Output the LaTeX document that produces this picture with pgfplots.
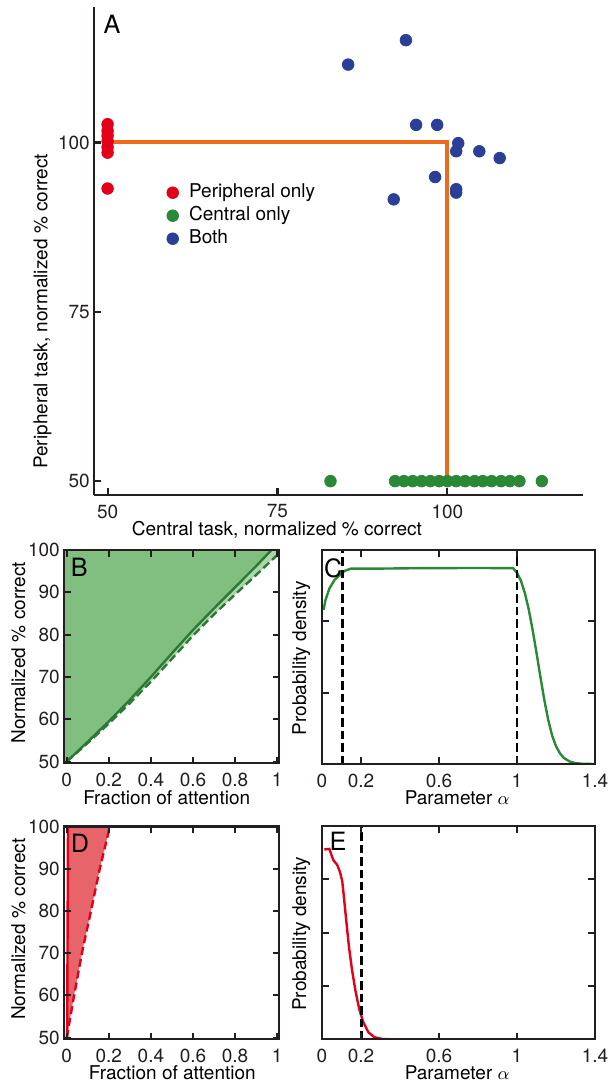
\documentclass[border=0pt]{standalone}
\usepackage{fontspec}
\setmainfont{TeX Gyre Heros}
\usepackage{pgfplots}
\pgfplotsset{compat=1.18}

\definecolor{axisgray}{HTML}{231F20}
\definecolor{redpt}{HTML}{E3001B}
\definecolor{greenpt}{HTML}{2A8837}
\definecolor{bluept}{HTML}{2A4096}
\definecolor{orangeln}{HTML}{EC6B1A}
\definecolor{Bfill}{HTML}{80BF80}
\definecolor{Bband}{HTML}{AED6AE}
\definecolor{Bline}{HTML}{2B7A33}
\definecolor{Dfill}{HTML}{E8646B}

\tikzset{panel letter/.style={anchor=north west, inner sep=0pt, font=\fontsize{12.6}{14}\selectfont}}

\pgfplotsset{
  every axis/.append style={
    scale only axis,
    tick label style={font=\fontsize{9.5}{11}\selectfont, text=axisgray},
    label style={font=\fontsize{9.5}{11}\selectfont},
    /pgf/number format/assume math mode=true,
    tick align=inside,
    major tick length=3.3pt,
    axis line style={line width=1.05pt, draw=axisgray},
    every tick/.style={line width=1.05pt, draw=axisgray},
    xticklabel style={yshift=-1.4pt},
    yticklabel style={xshift=1.4pt},
    axis on top,
  },
  dotlegend/.style={legend image code/.code={\draw[##1] plot coordinates {(0pt,0pt)}; \path (-3pt,0pt) (8pt,0pt);}},
}

\begin{document}
\begin{tikzpicture}
\useasboundingbox (0,0) rectangle (305.5pt,541pt);

% ---- A: scatter
\begin{axis}[
  at={(47pt,293.65pt)}, anchor=south west,
  width=244.65pt, height=243.85pt,
  axis lines*=left,
  axis line style={-, line width=0.95pt},
  tick align=inside,
  xmin=48, xmax=120, ymin=48, ymax=120,
  xtick={50,75,100}, ytick={50,75,100},
  xlabel={Central task, normalized \% correct},
  ylabel={Peripheral task, normalized \% correct},
  xlabel style={at={(axis description cs:0.374,0)}, anchor=base, yshift=-20.2pt},
  ylabel style={at={(axis description cs:-0.105,0.376)}, anchor=center},
  legend style={at={(axis description cs:0.147,0.6385)}, anchor=north west,
    draw=none, fill=none, inner sep=0pt, row sep=2.5pt,
    font=\fontsize{9.5}{11}\selectfont,
    nodes={inner sep=0pt, text height=7pt, text depth=2pt}},
  legend cell align=left,
]
\addplot[forget plot, draw=orangeln, line width=2pt, line join=miter] coordinates {(50,100) (100,100) (100,50.5)};
\addplot[only marks, mark=*, mark size=2.9pt, color=redpt, dotlegend] coordinates {
  (50,102.7) (50,101.7) (50,101.0) (50,100.2) (50,99.3) (50,98.5) (50,93.2)
};
\addlegendentry{Peripheral only}
\addplot[only marks, mark=*, mark size=2.9pt, color=greenpt, dotlegend] coordinates {
  (82.8,50) (92.3,50) (93.6,50) (94.9,50) (96.2,50) (97.5,50) (98.8,50) (100,50)
  (101.3,50) (102.6,50) (104.0,50) (105.2,50) (106.5,50) (107.9,50) (109.2,50)
  (110.6,50) (113.9,50)
};
\addlegendentry{Central only}
\addplot[only marks, mark=*, mark size=2.9pt, color=bluept, dotlegend] coordinates {
  (93.9,115.1) (85.4,111.5) (95.4,102.6) (98.5,102.6) (101.6,99.9) (101.3,98.7)
  (104.7,98.7) (107.7,97.7) (98.2,94.9) (101.3,93.1) (101.3,92.6) (92.1,91.6)
};
\addlegendentry{Both}
\node[panel letter, xshift=4.6pt, yshift=-4pt] at (rel axis cs:0,1) {A};
\end{axis}

% ---- B
\begin{axis}[
  at={(32pt,159.35pt)}, anchor=south west,
  width=107.65pt, height=106.65pt,
  xmin=-0.013, xmax=1.01, ymin=49.6, ymax=100,
  xtick={0,0.2,0.4,0.6,0.8,1}, ytick={50,60,70,80,90,100},
  xlabel={Fraction of attention},
  ylabel={Normalized \% correct},
  xlabel style={at={(axis description cs:0.477,0)}, anchor=base, yshift=-20.7pt},
  ylabel style={at={(axis description cs:-0.212,0.518)}, anchor=center},
]
\addplot[fill=Bfill, draw=none] coordinates {
  (-0.05,49) (0,50) (0.1,54.7) (0.2,59.5) (0.3,64.6) (0.4,70.0) (0.5,75.6)
  (0.6,81.1) (0.7,86.2) (0.8,91.2) (0.9,96.2) (0.973,100) (1,101.4)
  (1,102) (-0.05,102)
} --cycle;
\addplot[fill=Bband, draw=none] coordinates {
  (0,50) (0.1,54.7) (0.2,59.5) (0.3,64.6) (0.4,70.0) (0.5,75.6)
  (0.6,81.1) (0.7,86.2) (0.8,91.2) (0.9,96.2) (0.973,100) (1,101.4)
  (1,98.8) (0.9,94.1) (0.8,89.5) (0.7,84.8) (0.6,79.8) (0.5,74.3)
  (0.4,68.9) (0.3,63.8) (0.2,59.0) (0.1,54.4)
} --cycle;
\addplot[draw=Bline, line width=1.2pt, dash pattern=on 4pt off 2pt] coordinates {
  (0,50) (0.1,54.4) (0.2,59.0) (0.3,63.8) (0.4,68.9) (0.5,74.3)
  (0.6,79.8) (0.7,84.8) (0.8,89.5) (0.9,94.1) (1,98.8)
};
\addplot[draw=Bline, line width=1.2pt] coordinates {
  (0,50) (0.1,54.7) (0.2,59.5) (0.3,64.6) (0.4,70.0) (0.5,75.6)
  (0.6,81.1) (0.7,86.2) (0.8,91.2) (0.9,96.2) (0.973,100) (1,101.4)
};
\node[panel letter, xshift=3.2pt, yshift=-4pt] at (rel axis cs:0,1) {B};
\end{axis}

% ---- C
\begin{axis}[
  at={(161pt,159pt)}, anchor=south west,
  width=136.5pt, height=107pt,
  xmin=0, xmax=1.4, ymin=0, ymax=3,
  xtick={0,0.2,0.6,1,1.4}, ytick={1,2}, yticklabels={},
  xlabel={Parameter $\alpha$},
  ylabel={Probability density},
  xlabel style={at={(axis description cs:0.495,0)}, anchor=base, yshift=-20.5pt},
  ylabel style={at={(axis description cs:-0.0758,0.494)}, anchor=center},
]
\addplot[draw=greenpt, line width=1.2pt] coordinates {
  (0.008,2.16) (0.018,2.30) (0.038,2.46) (0.064,2.58) (0.092,2.65) (0.118,2.71)
  (0.148,2.738) (0.25,2.738) (0.5,2.745) (0.8,2.748) (0.98,2.745)
  (1.0,2.68) (1.02,2.57) (1.04,2.40) (1.06,2.17) (1.08,1.88) (1.10,1.56)
  (1.12,1.22) (1.14,0.90) (1.16,0.62) (1.18,0.40) (1.20,0.25) (1.22,0.15)
  (1.24,0.085) (1.27,0.035) (1.30,0.012) (1.34,0.002) (1.40,0)
};
\addplot[draw=black, line width=1.4pt, dash pattern=on 4.2pt off 2pt] coordinates {(0.105,0) (0.105,3)};
\addplot[draw=black, line width=1.4pt, dash pattern=on 4.2pt off 2pt] coordinates {(1,0) (1,3)};
\node[panel letter, xshift=0.8pt, yshift=-4pt] at (rel axis cs:0,1) {C};
\end{axis}

% ---- D
\begin{axis}[
  at={(32pt,21.35pt)}, anchor=south west,
  width=107.65pt, height=106.4pt,
  xmin=-0.013, xmax=1.01, ymin=49.6, ymax=100,
  xtick={0,0.2,0.4,0.6,0.8,1}, ytick={50,60,70,80,90,100},
  xlabel={Fraction of attention},
  ylabel={Normalized \% correct},
  xlabel style={at={(axis description cs:0.503,0)}, anchor=base, yshift=-20.2pt},
  ylabel style={at={(axis description cs:-0.212,0.517)}, anchor=center},
]
\addplot[fill=Dfill, draw=none] coordinates {
  (0,50) (0.006,100) (0.205,100) (0.157,90) (0.115,80) (0.072,70) (0.035,60)
} --cycle;
\addplot[draw=redpt, line width=1.2pt, dash pattern=on 4pt off 2pt] coordinates {
  (0,50) (0.035,60) (0.072,70) (0.115,80) (0.157,90) (0.205,100) (1,100)
};
\addplot[draw=redpt, line width=1.2pt] coordinates {(0.002,50) (0.006,100)};
\node[panel letter, xshift=3.2pt, yshift=-3.4pt] at (rel axis cs:0,1) {D};
\end{axis}

% ---- E
\begin{axis}[
  at={(161pt,21.35pt)}, anchor=south west,
  width=136.5pt, height=106.65pt,
  xmin=0, xmax=1.4, ymin=0, ymax=4,
  xtick={0,0.2,0.6,1,1.4}, ytick={1,2,3}, yticklabels={},
  xlabel={Parameter $\alpha$},
  ylabel={Probability density},
  xlabel style={at={(axis description cs:0.495,0)}, anchor=base, yshift=-20.2pt},
  ylabel style={at={(axis description cs:-0.0758,0.495)}, anchor=center},
]
\addplot[draw=redpt, line width=1.2pt] coordinates {
  (0.012,3.56) (0.038,3.57) (0.048,3.46) (0.058,3.36) (0.078,3.27) (0.092,3.14)
  (0.104,2.96) (0.112,2.68) (0.124,2.24) (0.138,1.74) (0.154,1.30) (0.172,0.90)
  (0.192,0.55) (0.212,0.32) (0.238,0.13) (0.268,0.04) (0.31,0.006) (0.35,0)
  (1.2,0)
};
\addplot[draw=black, line width=1.4pt, dash pattern=on 4.2pt off 2pt] coordinates {(0.203,0) (0.203,4)};
\node[panel letter, xshift=3.6pt, yshift=-3pt] at (rel axis cs:0,1) {E};
\end{axis}
\end{tikzpicture}
\end{document}
